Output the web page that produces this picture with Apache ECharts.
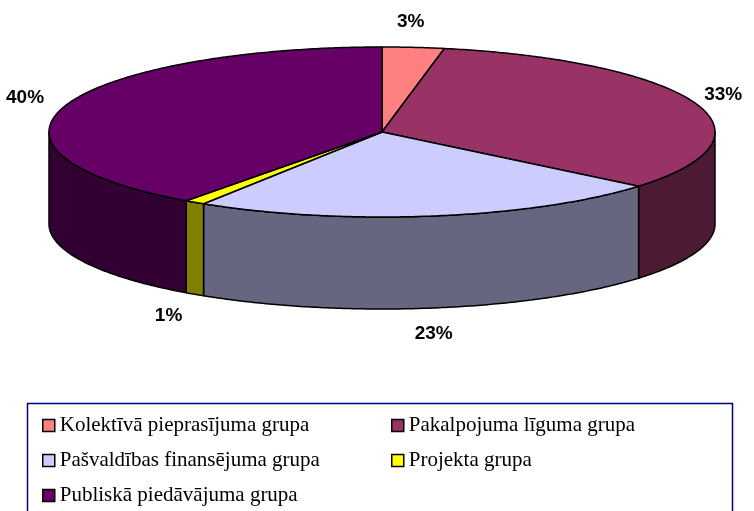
<!DOCTYPE html>
<html>
<head>
<meta charset="utf-8">
<script src="https://cdn.jsdelivr.net/npm/echarts@6/dist/echarts.min.js"></script>
<style>
  html, body { margin: 0; padding: 0; background: #fff; }
  #main { width: 754px; height: 511px; }
</style>
</head>
<body>
<div id="main"></div>
<script>
const categories = [
  'Kolektīvā pieprasījuma grupa',
  'Pakalpojuma līguma grupa',
  'Pašvaldības finansējuma grupa',
  'Projekta grupa',
  'Publiskā piedāvājuma grupa'
]
const values = [3, 33, 23, 1, 40]
const labels = ['3%', '33%', '23%', '1%', '40%']
const topColors = ['#ff8080', '#993366', '#ccccff', '#ffff00', '#660066']
const sideColors = ['#804040', '#4d1a33', '#666680', '#808000', '#330033']

// ellipse geometry of the fake 3d pie
const cx = 382, cy = 132, rx = 333, ry = 85, depth = 92
const total = values.reduce((a, b) => a + b, 0)

function pt (t, dy) {
  return [cx + rx * Math.sin(t), cy - ry * Math.cos(t) + (dy || 0)]
}
function arc (a, b, dy) {
  const pts = []
  const n = Math.max(2, Math.ceil((b - a) / 0.01))
  for (let k = 0; k <= n; k++) pts.push(pt(a + (b - a) * k / n, dy))
  return pts
}

function renderSlice (params, api) {
  const i = params.seriesIndex
  let before = 0
  for (let k = 0; k < i; k++) before += values[k]
  const a = before / total * Math.PI * 2
  const b = (before + api.value(0)) / total * Math.PI * 2
  const children = []
  // front wall
  const s = Math.max(a, Math.PI / 2), e = Math.min(b, Math.PI * 1.5)
  if (e > s) {
    const top = arc(s, e, 0)
    const bottom = arc(s, e, depth).reverse()
    children.push({
      type: 'polygon',
      shape: { points: top.concat(bottom) },
      style: { fill: sideColors[i], stroke: '#000', lineWidth: 1.5, lineJoin: 'round' }
    })
  }
  // top face
  children.push({
    type: 'polygon',
    shape: { points: [[cx, cy]].concat(arc(a, b, 0)) },
    style: { fill: topColors[i], stroke: '#000', lineWidth: 1.5, lineJoin: 'round' }
  })
  // label, pushed out from the rim at the slice middle
  const m = (a + b) / 2
  const front = Math.cos(m) < 0 ? depth : 0
  children.push({
    type: 'text',
    x: cx + (rx + 36) * Math.sin(m) - 6,
    y: cy - (ry + 26) * Math.cos(m) + front,
    style: {
      text: labels[i],
      fill: '#000',
      font: 'bold 19px "Liberation Sans", Arial, sans-serif',
      align: 'center',
      verticalAlign: 'middle'
    }
  })
  return { type: 'group', children: children }
}

const chart = echarts.init(document.getElementById('main'))
const legendBase = {
  orient: 'vertical',
  top: 410,
  itemGap: 14,
  itemWidth: 12,
  itemHeight: 12,
  icon: 'rect',
  itemStyle: { borderColor: '#000', borderWidth: 1.5 },
  textStyle: { fontFamily: '"Liberation Serif", "Times New Roman", serif', fontSize: 21, color: '#000' }
}
chart.setOption({
  animation: false,
  graphic: [{
    type: 'rect',
    shape: { x: 27.5, y: 403.5, width: 705, height: 130 },
    style: { fill: 'none', stroke: '#000080', lineWidth: 1.5 },
    silent: true
  }],
  legend: [
    Object.assign({ left: 37, data: [categories[0], categories[2], categories[4]] }, legendBase),
    Object.assign({ left: 386, data: [categories[1], categories[3]] }, legendBase)
  ],
  series: categories.map((name, i) => ({
    type: 'custom',
    name: name,
    coordinateSystem: 'none',
    silent: true,
    itemStyle: { color: topColors[i] },
    data: [[values[i]]],
    renderItem: renderSlice
  }))
})
</script>
</body>
</html>
